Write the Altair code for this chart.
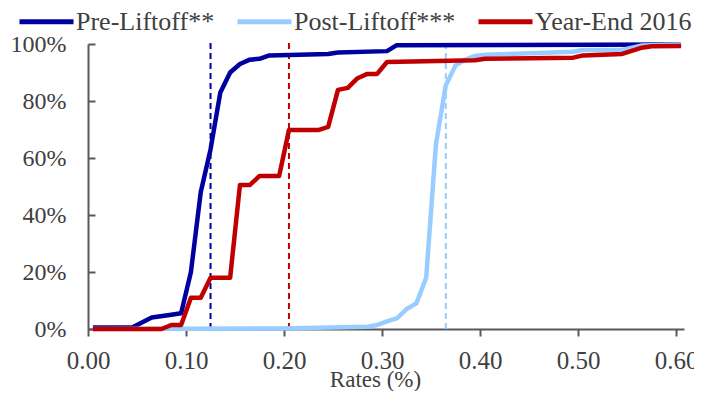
import altair as alt
import pandas as pd

series_names = ["Pre-Liftoff**", "Post-Liftoff***", "Year-End 2016"]
series_colors = ["#0000A0", "#99CCFF", "#C00000"]

pre_x = [0.005, 0.045, 0.065, 0.085, 0.095, 0.105, 0.115, 0.125, 0.135, 0.145, 0.155,
         0.165, 0.175, 0.185, 0.245, 0.255, 0.305, 0.315, 0.605]
pre_y = [0.005, 0.005, 0.04, 0.05, 0.055, 0.20, 0.48, 0.63, 0.83, 0.90, 0.93,
         0.945, 0.948, 0.96, 0.965, 0.97, 0.975, 0.996, 0.998]

post_x = [0.005, 0.195, 0.285, 0.295, 0.305, 0.315, 0.325, 0.335, 0.345, 0.355, 0.365,
          0.375, 0.385, 0.395, 0.405, 0.495, 0.505, 0.545, 0.565, 0.605]
post_y = [0.0, 0.002, 0.008, 0.014, 0.027, 0.037, 0.07, 0.09, 0.18, 0.65, 0.855,
          0.925, 0.945, 0.958, 0.962, 0.973, 0.979, 0.979, 0.995, 0.998]

ye_x = [0.005, 0.075, 0.085, 0.095, 0.105, 0.115, 0.125, 0.145, 0.155, 0.165, 0.175,
        0.195, 0.205, 0.235, 0.245, 0.255, 0.265, 0.275, 0.285, 0.295, 0.305, 0.395,
        0.405, 0.495, 0.505, 0.545, 0.565, 0.575, 0.605]
ye_y = [0.0, 0.0, 0.014, 0.014, 0.11, 0.11, 0.18, 0.18, 0.505, 0.505, 0.537,
        0.537, 0.698, 0.698, 0.709, 0.839, 0.846, 0.88, 0.895, 0.895, 0.937, 0.943,
        0.948, 0.952, 0.96, 0.965, 0.987, 0.992, 0.993]

marker_x = [0.125, 0.365, 0.205]  # dashed reference lines per series

x_ticks = [0.0, 0.1, 0.2, 0.3, 0.4, 0.5, 0.6]
y_ticks = [0.0, 0.2, 0.4, 0.6, 0.8, 1.0]

frames = []
for name, xs, ys in zip(series_names, [pre_x, post_x, ye_x], [pre_y, post_y, ye_y]):
    frames.append(pd.DataFrame({"series": name, "rate": xs, "share": ys, "idx": range(len(xs))}))
lines_df = pd.concat(frames, ignore_index=True)
rules_df = pd.DataFrame({"series": series_names, "rate": marker_x, "lo": 0.0, "hi": 1.014})

FONT = "Liberation Serif"
AX = "#595959"
TXT = "#404040"

x_enc = alt.X("rate:Q",
              scale=alt.Scale(domain=[0, 0.608], nice=False, zero=False),
              axis=alt.Axis(values=x_ticks, format=".2f", title="Rates (%)", grid=False,
                            domainColor=AX, domainWidth=2, tickColor=AX, tickWidth=2, tickSize=7,
                            labelFont=FONT, labelFontSize=25, labelColor=TXT, labelPadding=12,
                            titleFont=FONT, titleFontSize=23, titleFontWeight="normal",
                            titleColor=TXT, titleX=287, titleY=57,
                            titleBaseline="alphabetic", labelFlush=False))
y_enc = alt.Y("share:Q",
              scale=alt.Scale(domain=[0, 1], nice=False),
              axis=alt.Axis(values=y_ticks, format=".0%", title=None, grid=False,
                            domainColor=AX, domainWidth=2, tickColor=AX, tickWidth=2,
                            tickSize={"expr": "-7"}, labelFont=FONT, labelFontSize=24,
                            labelColor=TXT, labelPadding=29))
color_enc = alt.Color("series:N",
                      scale=alt.Scale(domain=series_names, range=series_colors),
                      legend=alt.Legend(orient="none", legendX=-71, legendY=-52,
                                        direction="horizontal", columns=3, title=None,
                                        symbolType="stroke", symbolSize=2916,
                                        symbolStrokeWidth=5, labelFont=FONT,
                                        labelFontSize=26, labelColor=TXT, labelLimit=400,
                                        columnPadding=12, labelOffset=0))

lines = alt.Chart(lines_df).mark_line(strokeWidth=4.5, strokeJoin="round").encode(
    x=x_enc, y=y_enc, color=color_enc, order="idx:Q", detail="series:N")

rules = alt.Chart(rules_df).mark_rule(strokeWidth=2, strokeDash=[6, 4]).encode(
    x="rate:Q", y=alt.Y("lo:Q"), y2="hi:Q", color=alt.Color("series:N"))

chart = alt.layer(rules, lines).properties(
    width=596, height=285, autosize="none",
    padding={"left": 80, "top": 36, "right": 10, "bottom": 62},
).configure_view(stroke=None)

chart.save("out.html", embed_options={"renderer": "svg", "actions": False})
